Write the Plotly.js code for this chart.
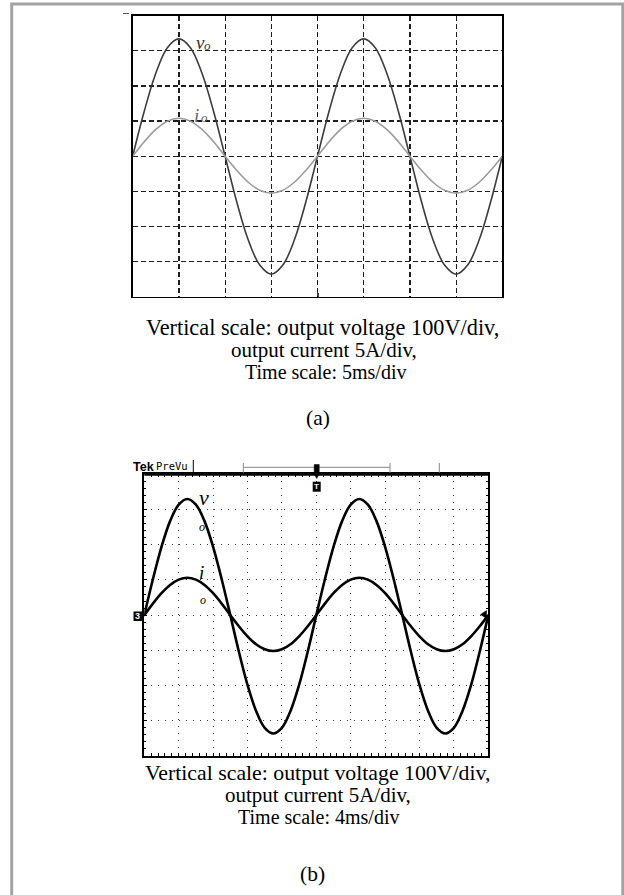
<!DOCTYPE html>
<html>
<head>
<meta charset="utf-8">
<script src="https://cdn.plot.ly/plotly-3.0.1.min.js"></script>
<style>
html,body{margin:0;padding:0;background:#fff;}
#chart{width:624px;height:895px;}
</style>
</head>
<body>
<div id="chart"></div>
<script>
// ---- (a) simulated waveforms, 5 ms/div, sampled every 1.25 ms ----
const timeA = [0,1.25,2.5,3.75,5,6.25,7.5,8.75,10,11.25,12.5,13.75,15,16.25,17.5,18.75,20,
  21.25,22.5,23.75,25,26.25,27.5,28.75,30,31.25,32.5,33.75,35,36.25,37.5,38.75,40];
const voltageA = [0,128,236,309,334,309,236,128,0,-129,-238,-310,-336,-310,-238,-129,0,
  128,236,309,334,309,236,128,0,-129,-238,-310,-336,-310,-238,-129,0];
const currentA = [0,2.07,3.82,4.99,5.4,4.99,3.82,2.07,0,-2.01,-3.71,-4.85,-5.25,-4.85,-3.71,-2.01,0,
  2.07,3.82,4.99,5.4,4.99,3.82,2.07,0,-2.01,-3.71,-4.85,-5.25,-4.85,-3.71,-2.01,0];

// ---- (b) measured waveforms, 4 ms/div, sampled every 1 ms ----
const timeB = [0,1,2,3,4,5,6,7,8,9,10,11,12,13,14,15,16,17,18,19,20,
  21,22,23,24,25,26,27,28,29,30,31,32,33,34,35,36,37,38,39,40];
const voltageB = [0,102,194,267,314,330,314,267,194,102,0,-104,-198,-272,-320,-336,-320,-272,-198,-104,0,
  102,194,267,314,330,314,267,194,102,0,-104,-198,-272,-320,-336,-320,-272,-198,-104,0];
const currentB = [0,1.64,3.12,4.29,5.04,5.3,5.04,4.29,3.12,1.64,0,-1.58,-3.0,-4.13,-4.85,-5.1,-4.85,-4.13,-3.0,-1.58,0,
  1.64,3.12,4.29,5.04,5.3,5.04,4.29,3.12,1.64,0,-1.58,-3.0,-4.13,-4.85,-5.1,-4.85,-4.13,-3.0,-1.58,0];

// scale labels
const captionA = ["Vertical scale: output voltage 100V/div,", "output current 5A/div,", "Time scale: 5ms/div"];
const captionB = ["Vertical scale: output voltage 100V/div,", "output current 5A/div,", "Time scale: 4ms/div"];

const W = 624, H = 895;
const px = x => x / W;
const py = y => 1 - y / H;

const traces = [
  {x: timeA, y: voltageA, xaxis: 'x', yaxis: 'y', mode: 'lines', line: {color: '#3c3c3c', width: 1.6, shape: 'spline'}, hoverinfo: 'skip'},
  {x: timeA, y: currentA, xaxis: 'x', yaxis: 'y3', mode: 'lines', line: {color: '#9c9c9c', width: 1.6, shape: 'spline'}, hoverinfo: 'skip'},
  {x: timeB, y: voltageB, xaxis: 'x2', yaxis: 'y2', mode: 'lines', line: {color: '#000', width: 2.6, shape: 'spline'}, hoverinfo: 'skip'},
  {x: timeB, y: currentB, xaxis: 'x2', yaxis: 'y4', mode: 'lines', line: {color: '#000', width: 2.6, shape: 'spline'}, hoverinfo: 'skip'}
];

const serif = 'Liberation Serif, Times New Roman, serif';

const annotations = [];
function txt(x, y, text, size, opts) {
  annotations.push(Object.assign({
    xref: 'paper', yref: 'paper', x: px(x), y: py(y), text: text, showarrow: false,
    xanchor: 'center', yanchor: 'middle', font: {family: serif, size: size, color: '#000'}
  }, opts || {}));
}
// captions (a)
txt(322.5, 327, captionA[0], 22.3);
txt(324, 350, captionA[1], 21);
txt(325, 372, captionA[2], 20);
txt(317.5, 418, '(a)', 21.5);
// captions (b)
txt(317.5, 773, captionB[0], 21.8);
txt(318, 795, captionB[1], 21);
txt(318, 817, captionB[2], 20);
txt(312, 874, '(b)', 21.5);

// trace labels (a)
txt(193.5, 42.5, '<i>v</i>', 19, {xanchor: 'left', font: {family: serif, size: 19, color: '#333'}});
txt(202, 45, '<i>o</i>', 13, {xanchor: 'left', font: {family: serif, size: 13, color: '#333'}});
txt(192, 115.5, '<i>i</i>', 19, {xanchor: 'left', font: {family: serif, size: 19, color: '#666'}});
txt(198.5, 118, '<i>o</i>', 13, {xanchor: 'left', font: {family: serif, size: 13, color: '#666'}});
// trace labels (b)
txt(204, 497, '<i>v</i>', 22);
txt(201.5, 527, '<i>o</i>', 12);
txt(201.5, 572, '<i>i</i>', 19);
txt(202.5, 600, '<i>o</i>', 12);

// Tek header
txt(131, 467, '<b>Tek</b>', 12.5, {xanchor: 'left', font: {family: 'Liberation Sans, Arial, sans-serif', size: 12.5, color: '#000'}});
txt(154, 466, 'PreVu', 10.5, {xanchor: 'left', font: {family: 'DejaVu Sans Mono, monospace', size: 10.5, color: '#000'}});
txt(316.7, 486.5, '<b>T</b>', 8, {font: {family: 'Liberation Sans, Arial, sans-serif', size: 8, color: '#fff'}});
txt(137.8, 616.2, '<b>3</b>', 9, {font: {family: 'Liberation Sans, Arial, sans-serif', size: 9, color: '#fff'}});

function pl(x0, y0, x1, y1, color, width) {
  return {type: 'line', xref: 'paper', yref: 'paper', x0: px(x0), y0: py(y0), x1: px(x1), y1: py(y1),
    line: {color: color, width: width}, layer: 'above'};
}
function rect(x0, y0, x1, y1, fill) {
  return {type: 'rect', xref: 'paper', yref: 'paper', x0: px(x0), y0: py(y0), x1: px(x1), y1: py(y1),
    fillcolor: fill, line: {width: 0}, layer: 'above'};
}
function path(pts, fill) {
  const d = 'M' + pts.map(p => px(p[0]) + ',' + py(p[1])).join(' L') + ' Z';
  return {type: 'path', xref: 'paper', yref: 'paper', path: d, fillcolor: fill, line: {color: fill, width: 0.5}, layer: 'above'};
}

const shapes = [
  // outer gray frame
  {type: 'rect', xref: 'paper', yref: 'paper', x0: px(11.7), x1: px(622.8), y0: py(905), y1: py(4),
    line: {color: '#a3a3a3', width: 3}, fillcolor: 'rgba(0,0,0,0)', layer: 'below'},
  // little artefacts on (a)
  pl(123, 13.5, 129, 13.5, '#555', 1),
  pl(318, 293, 318, 297, '#000', 1.5),
  // Tek header
  pl(193.3, 460, 193.3, 474, '#000', 1),
  pl(243.3, 467.3, 390, 467.3, '#888', 1),
  pl(243.3, 463, 243.3, 473, '#888', 1),
  pl(390, 463, 390, 473, '#888', 1),
  pl(439.3, 463, 439.3, 474, '#888', 1),
  pl(144.3, 474.3, 488.3, 474.3, '#000', 3),
  path([[314.2, 464.5], [319.2, 464.5], [319.2, 474], [316.7, 478.5], [314.2, 474]], '#000'),
  rect(312.7, 481.7, 320.7, 491.7, '#000'),
  rect(133.5, 611.5, 141.9, 621, '#000'),
  path([[141.9, 611.8], [144.6, 615.5], [141.9, 619.2]], '#000'),
  path([[486.5, 610.5], [480.5, 614.5], [486.5, 618.5]], '#000')
];

const gridA = {showgrid: true, gridcolor: '#1e1e1e', gridwidth: 1.2, griddash: '5px,3px',
  zeroline: false, showticklabels: false, ticks: '', showline: true, mirror: true,
  linecolor: '#000', linewidth: 1.4, fixedrange: true};
const gridB = {showgrid: true, gridcolor: '#3a3a3a', gridwidth: 1, griddash: '1px,6px',
  zeroline: false, showticklabels: false, ticks: 'inside', ticklen: 3, tickcolor: '#000', tickwidth: 1,
  showline: true, mirror: 'allticks', linecolor: '#000', linewidth: 2, fixedrange: true};

const layout = {
  width: W, height: H,
  margin: {l: 0, r: 0, t: 0, b: 0},
  paper_bgcolor: '#fff', plot_bgcolor: '#fff',
  showlegend: false,
  xaxis: Object.assign({}, gridA, {domain: [px(132.7), px(502.3)], range: [0, 40], tick0: 0, dtick: 5, anchor: 'y'}),
  yaxis: Object.assign({}, gridA, {domain: [py(296.7), py(15.7)], range: [-400, 400], tick0: 0, dtick: 100, anchor: 'x'}),
  yaxis3: {overlaying: 'y', range: [-20, 20], visible: false, fixedrange: true},
  xaxis2: Object.assign({}, gridB, {domain: [px(144.3), px(488.3)], range: [0, 40], tick0: 0, dtick: 4, anchor: 'y2',
    minor: {dtick: 0.8, tick0: 0, ticks: 'inside', ticklen: 2, tickcolor: '#000', showgrid: false}}),
  yaxis2: Object.assign({}, gridB, {domain: [py(756), py(474.3)], range: [-400, 400], tick0: 0, dtick: 100, anchor: 'x2',
    minor: {dtick: 20, tick0: 0, ticks: 'inside', ticklen: 2, tickcolor: '#000', showgrid: false}}),
  yaxis4: {overlaying: 'y2', range: [-20, 20], visible: false, fixedrange: true},
  annotations: annotations,
  shapes: shapes
};

Plotly.newPlot('chart', traces, layout, {displayModeBar: false, staticPlot: true});
</script>
</body>
</html>
